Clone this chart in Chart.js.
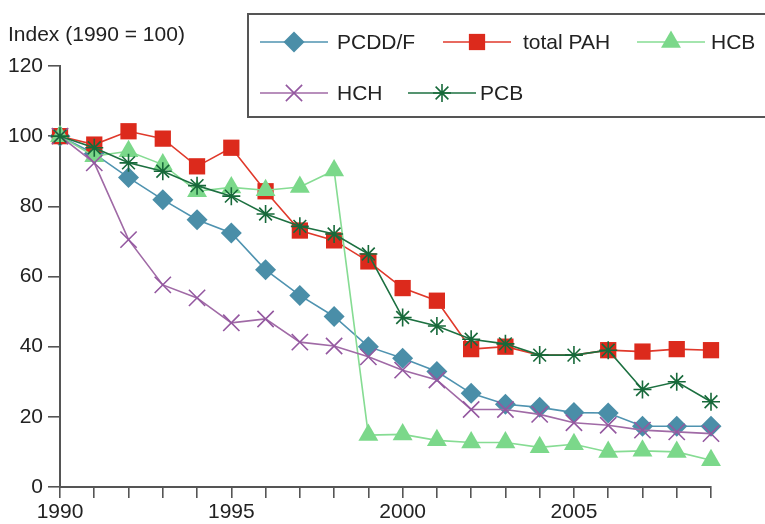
<!DOCTYPE html>
<html>
<head>
<meta charset="utf-8">
<script src="https://cdn.jsdelivr.net/npm/chart.js@4/dist/chart.umd.min.js"></script>
<style>
    html, body { margin: 0; padding: 0; background: #fff; }
    canvas { display: block; }
</style>
</head>
<body>
<canvas id="chart" width="765" height="524"></canvas>
<script>
// years on the x axis, 1990..2009
const years = [1990, 1991, 1992, 1993, 1994, 1995, 1996, 1997, 1998, 1999,
               2000, 2001, 2002, 2003, 2004, 2005, 2006, 2007, 2008, 2009];
const xTickLabels = [1990, 1995, 2000, 2005];
const yTicks = [0, 20, 40, 60, 80, 100, 120];

const pcddf = [100, 95, 88.2, 81.9, 76.2, 72.4, 61.9, 54.6, 48.6, 40.0,
               36.7, 32.9, 26.7, 23.6, 22.7, 21.2, 21.1, 17.3, 17.3, 17.3];
const totalPah = [100, 97.6, 101.4, 99.3, 91.4, 96.7, 84.3, 73.1, 70.3, 64.3,
                  56.7, 53.1, 39.3, 40.0, 37.6, 37.6, 39.0, 38.6, 39.3, 39.0];
const hcb = [100, 94.3, 95.7, 91.9, 84.3, 85.4, 84.6, 85.5, 90.2, 14.8,
             15.0, 13.3, 12.7, 12.7, 11.3, 12.2, 10.0, 10.3, 10.0, 7.6];
const hch = [100, 92.4, 70.5, 57.6, 53.9, 46.8, 47.9, 41.3, 40.2, 37.1,
             33.3, 30.5, 22.1, 22.1, 20.7, 18.3, 17.6, 16.2, 15.7, 15.2];
const pcb = [100, 96.7, 92.4, 90.0, 85.9, 82.9, 77.8, 74.3, 72.1, 66.4,
             48.3, 45.9, 42.1, 40.8, 37.6, 37.6, 39.0, 27.8, 30.0, 24.3];
// years where the PAH line has no marker
const pahNoMarker = [2004, 2005];

const FONT = "'Liberation Sans', Arial, Helvetica, sans-serif";
const FSIZE = 21;
const AXIS = '#555';
const TEXT = '#222';

const toPoints = arr => years.map((yr, i) => ({ x: yr, y: arr[i] }));

const SERIES = [
    { label: 'PCDD/F', data: pcddf, line: '#4f93b0', fill: '#4a8ea8', style: 'rectRot', r: 10.5, bw: 0, order: 5 },
    { label: 'total PAH', data: totalPah, line: '#e0392b', fill: '#dc2a1c', style: 'rect', r: 11.5, bw: 0, order: 4 },
    { label: 'HCB', data: hcb, line: '#86dc93', fill: '#7bd88a', style: 'triangle', r: 11.5, bw: 0, order: 3 },
    { label: 'HCH', data: hch, line: '#a06aa6', fill: '#9458a0', style: 'crossRot', r: 11.5, bw: 1.6, order: 2 },
    { label: 'PCB', data: pcb, line: '#1c7040', fill: '#17693a', style: 'star', r: 9, bw: 1.6, order: 1 }
];

const legendItems = [
    { i: 0, x: 260, y: 42, tx: 337 },
    { i: 1, x: 443, y: 42, tx: 523 },
    { i: 2, x: 637, y: 42, tx: 711 },
    { i: 3, x: 260, y: 93, tx: 337 },
    { i: 4, x: 408, y: 93, tx: 480 }
];

const decorPlugin = {
    id: 'decor',
    afterDraw(chart) {
        const ctx = chart.ctx;
        ctx.save();
        // y axis title
        ctx.fillStyle = TEXT;
        ctx.font = `${FSIZE}px ${FONT}`;
        ctx.textAlign = 'left';
        ctx.textBaseline = 'alphabetic';
        ctx.fillText('Index (1990 = 100)', 8, 41);

        // legend box, runs off the right edge
        ctx.strokeStyle = AXIS;
        ctx.lineWidth = 2;
        ctx.fillStyle = '#fff';
        ctx.fillRect(248, 14, 530, 103);
        ctx.strokeRect(248, 14, 530, 103);

        legendItems.forEach(it => {
            const s = SERIES[it.i];
            ctx.strokeStyle = s.line;
            ctx.lineWidth = 1.6;
            ctx.beginPath();
            ctx.moveTo(it.x, it.y);
            ctx.lineTo(it.x + 68, it.y);
            ctx.stroke();
            ctx.fillStyle = s.fill;
            ctx.strokeStyle = s.fill;
            ctx.lineWidth = s.bw;
            Chart.helpers.drawPoint(ctx, {
                pointStyle: s.style, radius: s.r, rotation: 0, borderWidth: s.bw
            }, it.x + 34, it.y);
            ctx.fillStyle = TEXT;
            ctx.font = `${FSIZE}px ${FONT}`;
            ctx.textBaseline = 'middle';
            ctx.fillText(s.label, it.tx, it.y + 1);
        });
        ctx.restore();
    }
};

new Chart(document.getElementById('chart'), {
    type: 'line',
    data: {
        datasets: SERIES.map((s, k) => ({
            label: s.label,
            data: toPoints(s.data),
            borderColor: s.line,
            borderWidth: 1.6,
            backgroundColor: s.fill,
            pointStyle: s.style,
            pointRadius: k === 1
                ? (c => pahNoMarker.includes(years[c.dataIndex]) ? 0 : s.r)
                : s.r,
            pointBackgroundColor: s.fill,
            pointBorderColor: s.fill,
            pointBorderWidth: s.bw,
            tension: 0,
            clip: false,
            order: s.order
        }))
    },
    plugins: [decorPlugin],
    options: {
        responsive: false,
        animation: false,
        events: [],
        layout: { padding: { top: 66, right: 54, left: 0, bottom: 0 } },
        plugins: {
            legend: { display: false },
            tooltip: { enabled: false }
        },
        scales: {
            x: {
                type: 'linear',
                min: years[0],
                max: years[years.length - 1],
                afterBuildTicks: scale => {
                    scale.ticks = years.map(v => ({ value: v }));
                },
                afterFit: scale => { scale.height = 37; },
                ticks: {
                    autoSkip: false,
                    maxRotation: 0,
                    padding: 2,
                    color: TEXT,
                    font: { family: FONT, size: FSIZE },
                    callback: v => xTickLabels.includes(v) ? String(v) : ''
                },
                grid: {
                    drawOnChartArea: false,
                    drawTicks: true,
                    tickLength: 11,
                    color: AXIS,
                    lineWidth: 1.6
                },
                border: { display: true, color: AXIS, width: 2 }
            },
            y: {
                min: 0,
                max: 120,
                afterBuildTicks: scale => {
                    scale.ticks = yTicks.map(v => ({ value: v }));
                },
                afterFit: scale => { scale.width = 60; },
                ticks: {
                    padding: 5,
                    color: TEXT,
                    font: { family: FONT, size: FSIZE }
                },
                grid: {
                    drawOnChartArea: false,
                    drawTicks: true,
                    tickLength: 12,
                    color: AXIS,
                    lineWidth: 1.6
                },
                border: { display: true, color: AXIS, width: 2 }
            }
        }
    }
});
</script>
</body>
</html>
